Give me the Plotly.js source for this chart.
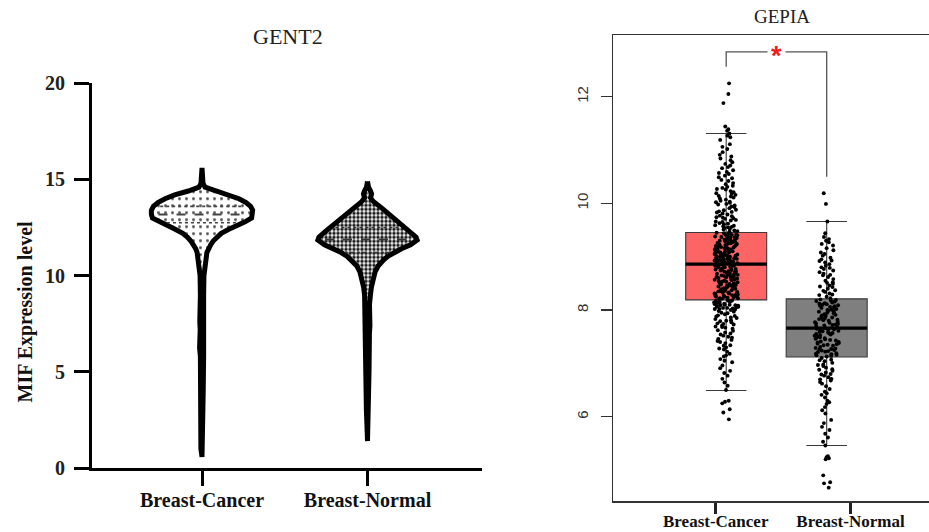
<!DOCTYPE html>
<html><head><meta charset="utf-8">
<script src="https://cdn.plot.ly/plotly-3.0.1.min.js"></script>
<style>html,body{margin:0;padding:0;background:#fff}#chart{width:929px;height:532px}</style>
</head><body><div id="chart"></div>
<script>
// ---------- data ----------
const categories = ['Breast-Cancer', 'Breast-Normal'];

// GENT2 violin profiles (expression level, relative density in % of the widest point)
const violinLevelsCancer = [15.6, 15.2, 14.8, 14.6, 14.4, 14.2, 14.0, 13.8, 13.6, 13.4, 13.2, 13.0, 12.8, 12.6, 12.4, 12.2, 12.0, 11.8, 11.6, 11.4, 11.2, 11.0, 10.6, 10.0, 9.0, 8.0, 7.6, 7.2, 6.6, 6.25, 5.8, 4.0, 2.0, 1.0, 0.58];
const violinDensityCancer = [0, 1, 2, 6, 27, 54, 73, 87, 96, 100, 100, 98, 85, 67, 52, 38, 29, 22, 17, 12.5, 9.6, 8.7, 5.8, 3.8, 3.2, 3.6, 4.4, 3.6, 3.6, 4.8, 3.2, 2.4, 2.2, 2.2, 0];
const violinLevelsNormal = [14.9, 14.6, 14.4, 14.25, 14.05, 13.85, 13.5, 13.2, 12.9, 12.6, 12.3, 12.0, 11.85, 11.6, 11.4, 11.2, 11.0, 10.8, 10.5, 10.2, 9.8, 9.4, 9.0, 8.5, 7.4, 7.0, 5.0, 3.0, 1.4];
const violinDensityNormal = [0, 2, 6, 8, 6, 11.5, 29, 42, 56, 69, 83, 96, 98, 85, 67, 52, 40, 31, 21, 15, 10.6, 7.7, 5.8, 3.9, 4.8, 3.8, 3.0, 2.2, 0];
const violinMedian = [13.18, 11.88];
const violinQ1 = [12.75, 11.2];
const violinQ3 = [13.6, 12.5];

// GEPIA box statistics
const boxQ1 = [8.19, 7.12];
const boxMedian = [8.86, 7.66];
const boxQ3 = [9.455, 8.21];
const boxLowerWhisker = [6.49, 5.46];
const boxUpperWhisker = [11.31, 9.66];
const bracketLevels = [12.56, 12.84, 10.5]; // left drop, bar, right drop
const significanceLabel = '*';

// GEPIA sample points
const pointsCancer = [
12.25, 12.05, 11.88, 11.44, 11.39, 11.36,
11.31, 11.24, 11.19, 11.11, 11.06, 11.02, 11.27,
10.96, 10.91, 10.84, 10.88, 10.77, 10.71, 10.74, 10.66, 10.62, 10.59, 10.55, 10.68, 10.52, 10.81, 10.57,
10.47, 10.42, 10.38, 10.44, 10.33, 10.29, 10.36, 10.21, 10.26, 10.18, 10.14, 10.23, 10.09, 10.11, 10.05, 10.02, 10.16, 10.31, 10.07, 10.49, 10.13, 10.03, 10.19, 10.27, 10.01,
9.98, 9.94, 9.91, 9.87, 9.96, 9.83, 9.79, 9.85, 9.76, 9.72, 9.81, 9.68, 9.74, 9.65, 9.61, 9.69, 9.58, 9.63, 9.55, 9.52, 9.59, 9.49, 9.47, 9.56, 9.93, 9.71, 9.88, 9.62, 9.51, 9.77, 9.66, 9.99, 9.54, 9.84, 9.48, 9.73, 9.57,
9.45, 9.43, 9.41, 9.44, 9.38, 9.36, 9.39, 9.34, 9.31, 9.33, 9.29, 9.27, 9.30, 9.25, 9.22, 9.24, 9.20, 9.18, 9.21, 9.16, 9.14, 9.17, 9.12, 9.10, 9.13, 9.08, 9.06, 9.09, 9.04, 9.02, 9.05, 9.00, 8.98, 9.01, 8.96, 8.94, 8.97, 8.92, 8.90, 8.93, 8.88, 8.87, 8.89, 9.42, 9.37, 9.32, 9.26, 9.19, 9.15, 9.07, 9.03, 8.99, 8.95, 8.91, 9.40, 9.35, 9.28, 9.23, 9.11, 8.97, 8.90, 9.44, 9.36, 9.29, 9.21, 9.14, 9.06, 8.99, 8.92, 8.88, 9.41, 9.33, 9.26, 9.18, 9.10, 9.02, 8.95, 8.87, 9.38, 9.24, 9.12, 9.00, 8.93, 9.31, 9.16, 9.04, 8.96, 9.20, 9.08, 8.91,
8.85, 8.83, 8.81, 8.84, 8.79, 8.77, 8.80, 8.75, 8.73, 8.76, 8.71, 8.69, 8.72, 8.67, 8.65, 8.68, 8.63, 8.61, 8.64, 8.59, 8.57, 8.60, 8.55, 8.53, 8.56, 8.51, 8.49, 8.52, 8.47, 8.45, 8.48, 8.43, 8.41, 8.44, 8.39, 8.37, 8.40, 8.35, 8.33, 8.36, 8.31, 8.29, 8.32, 8.27, 8.25, 8.28, 8.23, 8.21, 8.24, 8.20, 8.82, 8.74, 8.66, 8.58, 8.50, 8.42, 8.34, 8.26, 8.86, 8.78, 8.70, 8.62, 8.54, 8.46, 8.38, 8.30, 8.22, 8.84, 8.72, 8.64, 8.53, 8.41, 8.33, 8.25, 8.80, 8.69, 8.57, 8.46, 8.35, 8.28, 8.76, 8.61, 8.49, 8.37, 8.22, 8.83, 8.66, 8.44, 8.31, 8.27,
8.18, 8.16, 8.14, 8.17, 8.12, 8.10, 8.13, 8.08, 8.06, 8.09, 8.04, 8.02, 8.05, 8.01, 8.15, 8.11, 8.07, 8.03, 8.00, 8.17, 8.12, 8.06, 8.02, 8.14, 8.09, 8.04, 8.19, 8.10,
7.98, 7.95, 7.92, 7.97, 7.89, 7.86, 7.90, 7.83, 7.80, 7.85, 7.77, 7.74, 7.79, 7.71, 7.68, 7.73, 7.65, 7.62, 7.67, 7.94, 7.88, 7.81, 7.75, 7.69, 7.61,
7.58, 7.54, 7.50, 7.56, 7.46, 7.42, 7.48, 7.38, 7.34, 7.40, 7.30, 7.26, 7.33, 7.22, 7.52, 7.44, 7.28,
7.18, 7.13, 7.08, 7.15, 7.02, 6.96, 7.05, 6.91, 6.86, 6.82,
6.77, 6.71, 6.64, 6.58, 6.50,
6.30, 6.28, 6.25, 6.14, 6.08, 5.95
];
const pointsNormal = [
10.19, 9.99,
9.66, 9.44, 9.37, 9.33, 9.30,
9.27, 9.21, 9.16, 9.12, 9.08, 9.05, 9.02, 9.24,
8.98, 8.95, 8.92, 8.89, 8.86, 8.83, 8.80, 8.77, 8.74, 8.71, 8.68, 8.65, 8.62, 8.93, 8.79, 8.66,
8.58, 8.55, 8.52, 8.49, 8.46, 8.43, 8.40, 8.37, 8.34, 8.31, 8.28, 8.25, 8.22, 8.51, 8.44, 8.36, 8.29,
8.20, 8.18, 8.16, 8.14, 8.12, 8.10, 8.08, 8.06, 8.04, 8.02, 8.00, 7.98, 7.96, 7.94, 7.92, 7.90, 7.88, 7.86, 7.84, 7.82, 7.80, 7.78, 7.76, 7.74, 7.72, 7.70, 7.68, 7.67, 8.19, 8.13, 8.07, 8.01, 7.95, 7.89, 7.83, 7.77, 7.71, 8.17, 8.09, 7.99, 7.91, 7.81, 7.73, 8.11, 7.97, 7.85, 7.75, 8.05,
7.65, 7.63, 7.61, 7.59, 7.57, 7.55, 7.53, 7.51, 7.49, 7.47, 7.45, 7.43, 7.41, 7.39, 7.37, 7.35, 7.33, 7.31, 7.29, 7.27, 7.25, 7.23, 7.21, 7.19, 7.17, 7.15, 7.13, 7.64, 7.58, 7.52, 7.46, 7.40, 7.34, 7.28, 7.22, 7.16, 7.62, 7.54, 7.44, 7.36, 7.26, 7.18, 7.60, 7.48, 7.38, 7.24, 7.14, 7.56,
7.10, 7.07, 7.04, 7.01, 6.98, 6.95, 6.92, 6.89, 6.86, 6.83, 6.80, 6.77, 6.74, 6.71, 6.68, 6.65, 6.62, 7.06, 6.97, 6.88, 6.79, 6.70,
6.57, 6.52, 6.47, 6.41, 6.36, 6.30, 6.24, 6.18, 6.12, 6.06, 6.44, 6.27,
5.94, 5.88, 5.81, 5.75, 5.68, 5.61, 5.53, 5.46,
5.26, 5.24, 5.22, 5.20, 4.90, 4.77, 4.75, 4.67
];

// ---------- styles ----------
const SERIF = 'Liberation Serif, Times New Roman, serif';
const SANS = 'Liberation Sans, Arial, sans-serif';
const violinHalf = 0.306;     // half width (x units) of the widest point
const boxWidth = 0.806;
const boxFills = ['#fd6464', '#7f7f7f'];
const violinPatterns = [
  {shape: '.', size: 7, solidity: 0.14, fgcolor: '#555', bgcolor: '#fff'},
  {shape: '.', size: 4, solidity: 0.6, fgcolor: '#1a1a1a', bgcolor: '#fff'}
];

function widthAt(levels, dens, v) {
  for (let i = 0; i < levels.length - 1; i++) {
    const a = levels[i], b = levels[i + 1];
    if ((v <= a && v >= b)) {
      const t = (a - v) / (a - b);
      return dens[i] + t * (dens[i + 1] - dens[i]);
    }
  }
  return 0;
}

const traces = [];
const profiles = [[violinLevelsCancer, violinDensityCancer], [violinLevelsNormal, violinDensityNormal]];
profiles.forEach(([lv, dn], i) => {
  const xs = [], ys = [];
  lv.forEach((v, k) => { xs.push(i + dn[k] / 100 * violinHalf); ys.push(v); });
  for (let k = lv.length - 1; k >= 0; k--) { xs.push(i - dn[k] / 100 * violinHalf); ys.push(lv[k]); }
  traces.push({
    type: 'scatter', mode: 'lines', x: xs, y: ys, xaxis: 'x', yaxis: 'y',
    fill: 'toself', fillcolor: '#fff', fillpattern: violinPatterns[i],
    line: {color: '#000', width: 5}, hoverinfo: 'skip', showlegend: false
  });
  // quartile and median lines
  [[violinQ3[i], 'dot', 1.6], [violinMedian[i], 'dash', 2], [violinQ1[i], 'dot', 1.6]].forEach(([q, dash, w]) => {
    const hw = widthAt(lv, dn, q) / 100 * violinHalf * 0.86;
    traces.push({
      type: 'scatter', mode: 'lines', x: [i - hw, i + hw], y: [q, q], xaxis: 'x', yaxis: 'y',
      line: {color: i === 0 ? '#444' : '#333', width: w, dash: dash}, hoverinfo: 'skip', showlegend: false
    });
  });
});

// GEPIA boxes
categories.forEach((c, i) => {
  traces.push({
    type: 'box', x: [i], q1: [boxQ1[i]], median: [boxMedian[i]], q3: [boxQ3[i]],
    lowerfence: [boxLowerWhisker[i]], upperfence: [boxUpperWhisker[i]],
    xaxis: 'x2', yaxis: 'y2', width: boxWidth, whiskerwidth: 0.5,
    fillcolor: boxFills[i], line: {color: '#3a3a3a', width: 1.1},
    boxpoints: false, hoverinfo: 'skip', showlegend: false, name: c
  });
  traces.push({
    type: 'box', x: [i], q1: [boxMedian[i]], median: [boxMedian[i]], q3: [boxMedian[i]],
    lowerfence: [boxMedian[i]], upperfence: [boxMedian[i]],
    xaxis: 'x2', yaxis: 'y2', width: boxWidth, whiskerwidth: 0,
    fillcolor: 'rgba(0,0,0,0)', line: {color: '#000', width: 3.2},
    boxpoints: false, hoverinfo: 'skip', showlegend: false, name: c
  });
});
[pointsCancer, pointsNormal].forEach((pts, i) => {
  traces.push({
    type: 'box', y: pts, x0: i, xaxis: 'x2', yaxis: 'y2', width: boxWidth,
    boxpoints: 'all', jitter: 0.3, pointpos: 0,
    marker: {size: 3.9, color: '#000'}, line: {width: 0, color: 'rgba(0,0,0,0)'},
    fillcolor: 'rgba(0,0,0,0)', hoverinfo: 'skip', showlegend: false, name: categories[i]
  });
});

const layout = {
  width: 929, height: 532,
  margin: {l: 0, r: 0, t: 0, b: 0},
  paper_bgcolor: '#fff', plot_bgcolor: 'rgba(0,0,0,0)',
  showlegend: false, boxmode: 'overlay',
  xaxis: {
    domain: [92 / 929, 481.7 / 929], range: [-0.6647, 1.69], type: 'linear',
    showgrid: false, zeroline: false, showline: true, linecolor: '#000', linewidth: 3,
    tickmode: 'array', tickvals: [0, 1], ticktext: categories,
    ticks: 'outside', ticklen: 15, tickwidth: 3, tickcolor: '#000',
    tickfont: {family: SERIF, size: 20, color: '#111', weight: 'bold'}, ticklabelstandoff: -3
  },
  yaxis: {
    domain: [(532 - 468) / 532, (532 - 83.3) / 532], range: [0, 20],
    showgrid: false, zeroline: false, showline: true, linecolor: '#000', linewidth: 3,
    tickmode: 'linear', tick0: 0, dtick: 5,
    ticks: 'outside', ticklen: 15, tickwidth: 3, tickcolor: '#000',
    tickfont: {family: SERIF, size: 20, color: '#222', weight: 'bold'}, ticklabelstandoff: 5
  },
  xaxis2: {
    domain: [613.3 / 929, 1], range: [-1.1234, 2.018], type: 'linear', anchor: 'y2',
    showgrid: false, zeroline: false, showline: true, mirror: true, linecolor: '#333', linewidth: 1.5,
    tickmode: 'array', tickvals: [-0.104, 1.237], ticktext: categories,
    ticks: 'outside', ticklen: 11, tickwidth: 2.6, tickcolor: '#222',
    tickfont: {family: SERIF, size: 17, color: '#111', weight: 'bold'}, ticklabelstandoff: -7
  },
  yaxis2: {
    domain: [(532 - 501) / 532, (532 - 35) / 532], range: [4.4193, 13.157], anchor: 'x2',
    showgrid: false, zeroline: false, showline: true, linecolor: '#333', linewidth: 1.5,
    tickmode: 'array', tickvals: [6, 8, 10, 12],
    ticks: 'outside', ticklen: 11, tickwidth: 1.3, tickcolor: '#333', tickangle: -90,
    tickfont: {family: SANS, size: 15, color: '#333'}, ticklabelstandoff: 7
  },
  shapes: [{
    type: 'path', xref: 'x2', yref: 'y2',
    path: `M0,${bracketLevels[0]} L0,${bracketLevels[1]} L1,${bracketLevels[1]} L1,${bracketLevels[2]}`,
    line: {color: '#555', width: 1.3}
  }],
  annotations: [
    {text: 'GENT2', xref: 'paper', yref: 'paper', x: 288 / 929, y: 1 - 36 / 532, showarrow: false,
     xanchor: 'center', yanchor: 'middle', font: {family: SERIF, size: 22, color: '#222'}},
    {text: 'GEPIA', xref: 'paper', yref: 'paper', x: 782 / 929, y: 1 - 16.3 / 532, showarrow: false,
     xanchor: 'center', yanchor: 'middle', font: {family: SERIF, size: 19, color: '#222'}},
    {text: 'MIF Expression level', xref: 'paper', yref: 'paper', x: 25 / 929, y: 1 - 311.5 / 532, showarrow: false,
     textangle: -90, xanchor: 'center', yanchor: 'middle', font: {family: SERIF, size: 20, color: '#111', weight: 'bold'}},
    {text: significanceLabel, xref: 'x2', yref: 'y2', x: 0.5, y: bracketLevels[1], showarrow: false,
     xanchor: 'center', yanchor: 'middle', yshift: -4, bgcolor: '#fff', borderpad: 3,
     font: {family: SANS, size: 27, color: '#ee1c1c', weight: 'bold'}}
  ]
};

Plotly.newPlot('chart', traces, layout, {staticPlot: true, displayModeBar: false});
</script>
</body></html>
